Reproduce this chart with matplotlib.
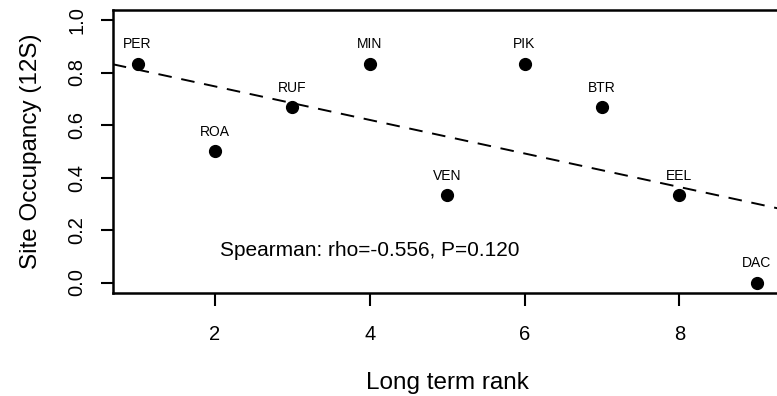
import numpy as np
import matplotlib
matplotlib.use('Agg')
import matplotlib.pyplot as plt

# data
sites = ['PER', 'ROA', 'RUF', 'MIN', 'VEN', 'PIK', 'BTR', 'EEL', 'DAC']
rank = [1, 2, 3, 4, 5, 6, 7, 8, 9]
occupancy = [0.833, 0.5, 0.667, 0.833, 0.333, 0.833, 0.667, 0.333, 0.0]
xticks = [2, 4, 6, 8]
yticks = [0.0, 0.2, 0.4, 0.6, 0.8, 1.0]
stat_text = 'Spearman: rho=-0.556, P=0.120'

plt.rcParams['font.family'] = ['Liberation Sans', 'DejaVu Sans']

fig = plt.figure(figsize=(7.77, 3.96), dpi=100)
# plot region runs past the right edge of the image, as in the reference
ax = fig.add_axes([112.8/777, (396-293)/396, (781.5-112.8)/777, (293-9.5)/396])

x = np.array(rank, dtype=float)
y = np.array(occupancy)
ax.plot(x, y, 'o', color='black', markersize=8.5, zorder=3)

# least squares line across the plot region
slope, icpt = np.polyfit(x, y, 1)
xl = np.array([0.68, 9.32])
ax.plot(xl, icpt + slope*xl, color='black', lw=1.4, dashes=(7, 5))

for s, xi, yi in zip(sites, x, y):
    ax.annotate(s, (xi, yi), xytext=(0, 9), textcoords='offset points',
                ha='center', va='bottom', fontsize=10)

ax.text(4, 0.12, stat_text, ha='center', va='center', fontsize=15)

ax.set_xlim(0.68, 9.32)
ax.set_ylim(-0.04, 1.04)
ax.set_xticks(xticks)
ax.set_xticklabels([str(t) for t in xticks])
ax.set_yticks(yticks)
ax.set_yticklabels(['%.1f' % t for t in yticks], rotation=90, va='center')
ax.tick_params(direction='out', length=9, width=1.5, labelsize=14.5, pad=14)
ax.tick_params(axis='y', pad=10)
for sp in ax.spines.values():
    sp.set_linewidth(1.8)

ax.set_xlabel('Long term rank', fontsize=17.5, labelpad=20)
ax.set_ylabel('Site Occupancy (12S)', fontsize=17.5, labelpad=18)

fig.savefig('out.png', dpi=100)
